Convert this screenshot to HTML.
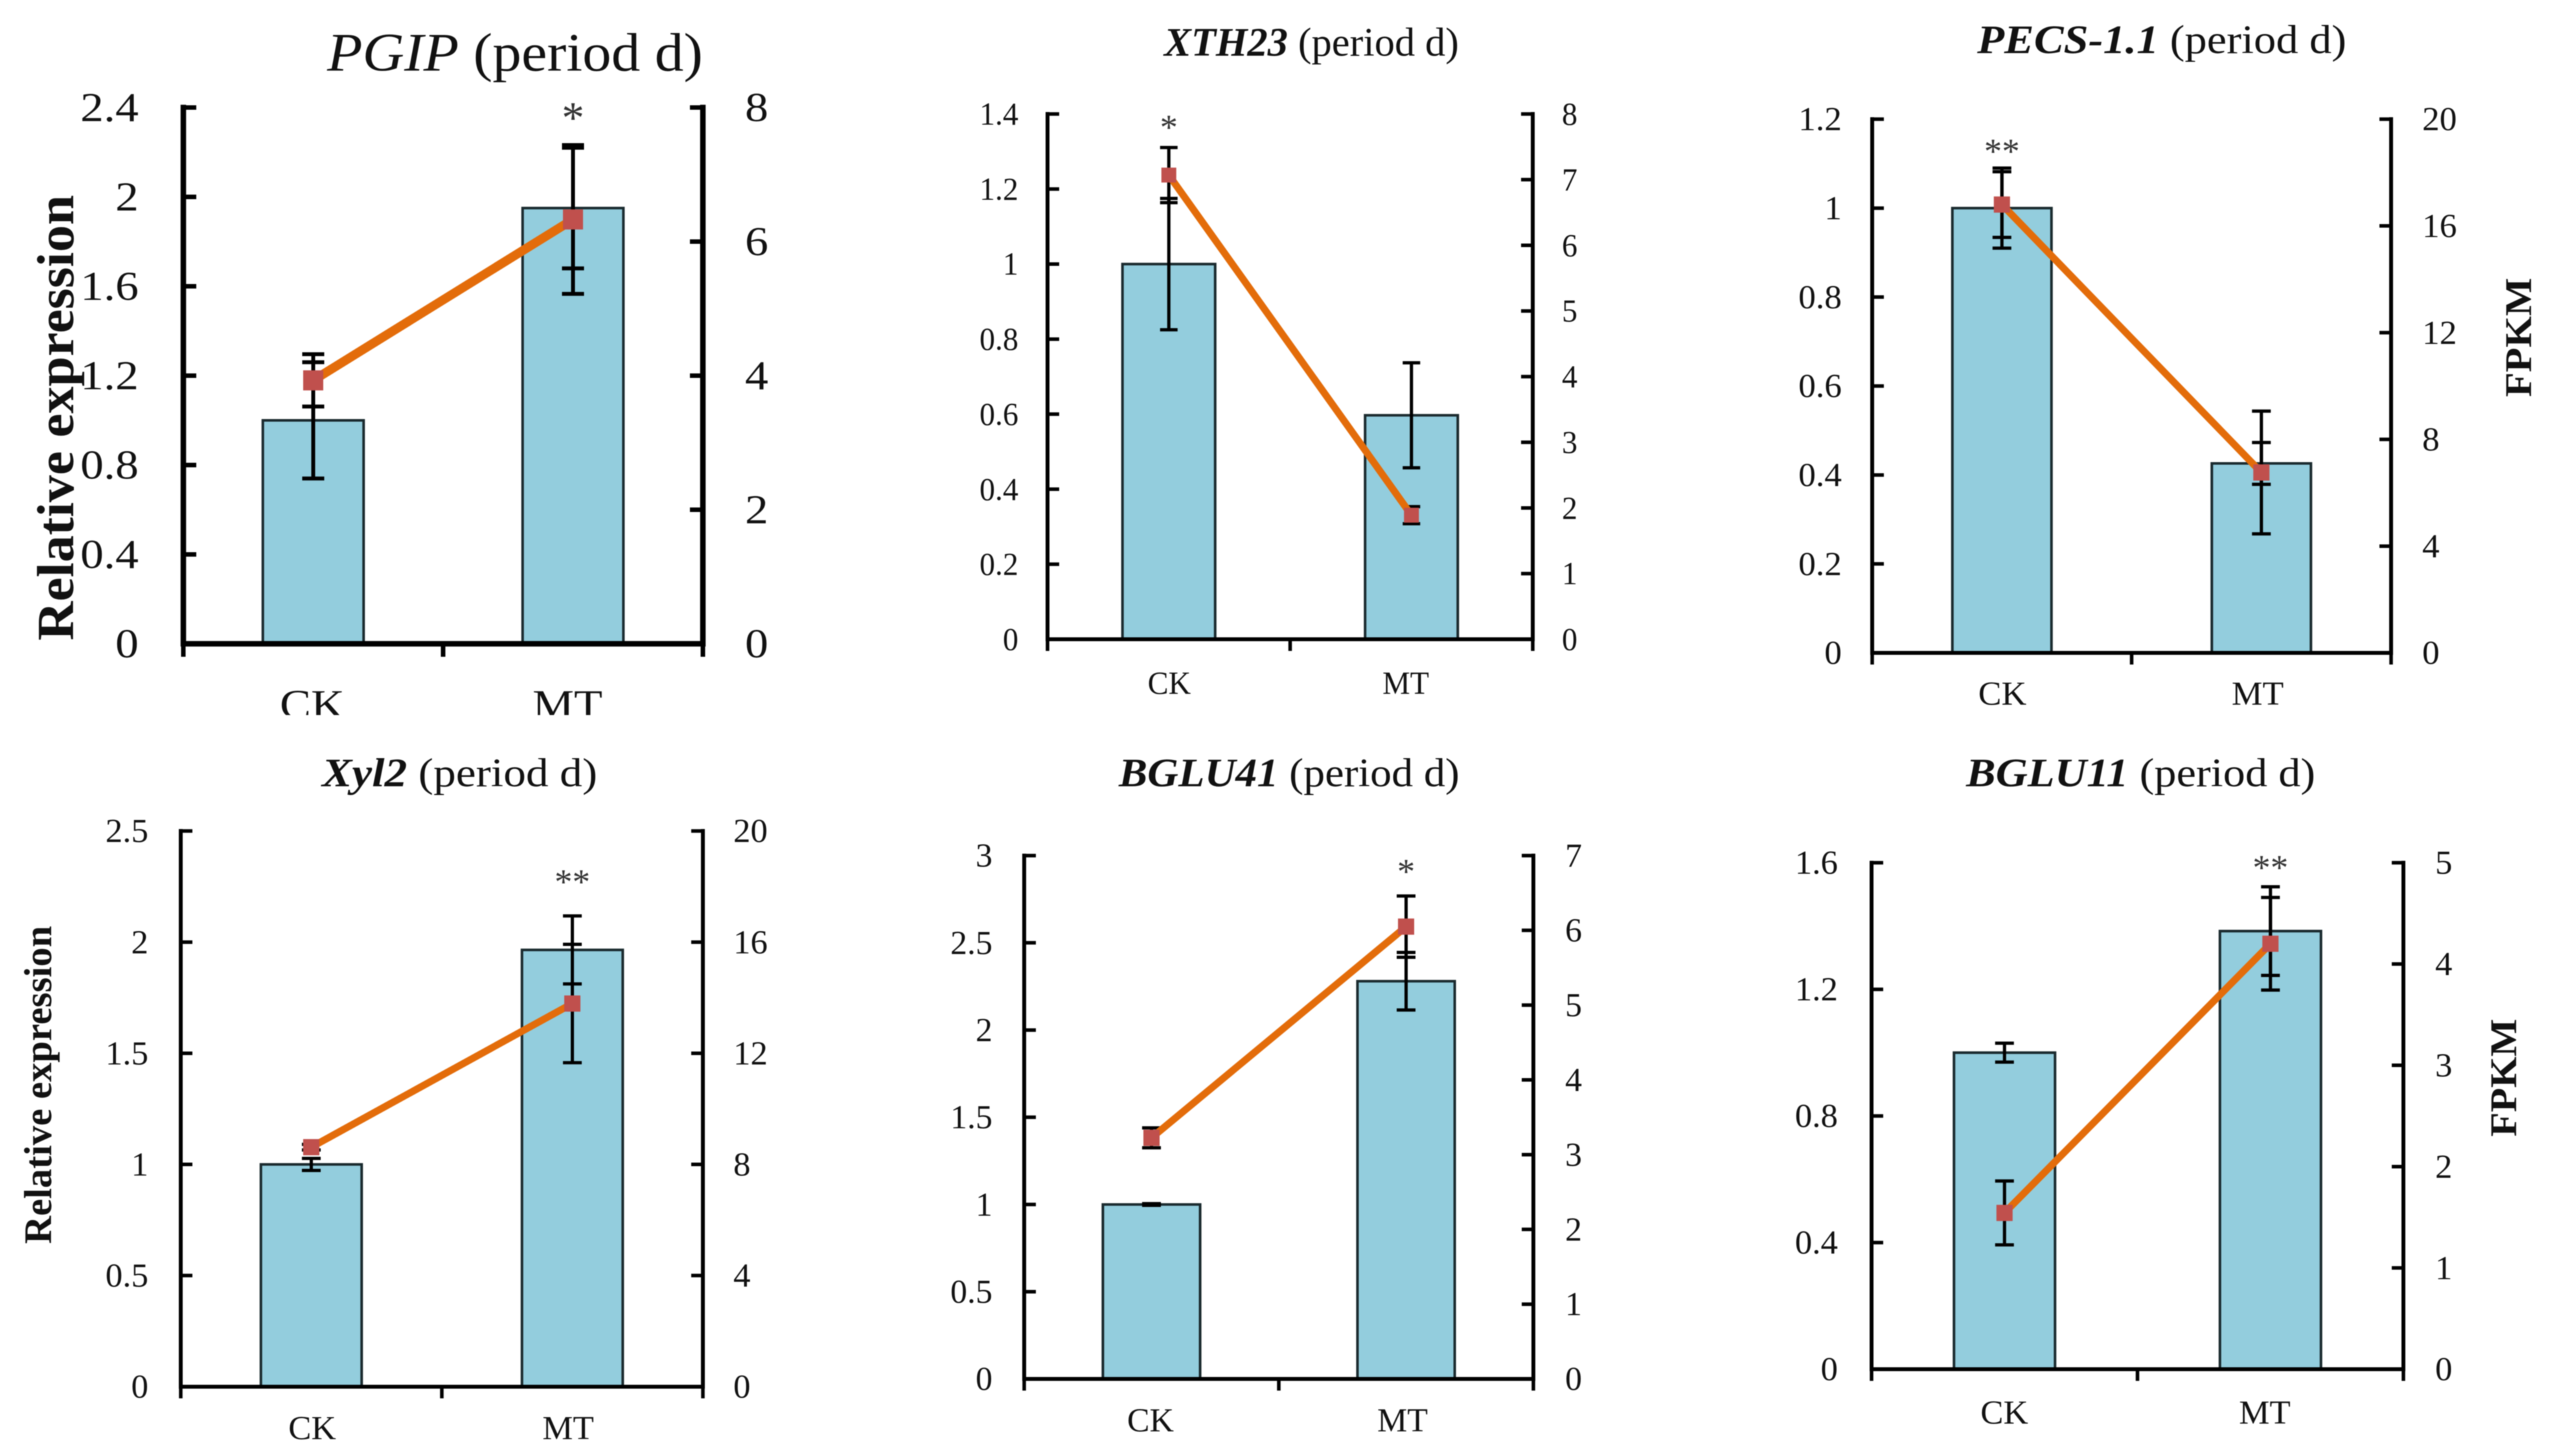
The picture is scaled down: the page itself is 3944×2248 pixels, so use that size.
<!DOCTYPE html>
<html lang="en">
<head>
<meta charset="utf-8">
<title>Relative expression and FPKM (period d)</title>
<style>
html,body{margin:0;padding:0;background:#fff;width:3944px;height:2248px;overflow:hidden}
svg{display:block;font-family:"Liberation Serif",serif;filter:blur(0.8px)}
</style>
</head>
<body>
<svg id="figure" xmlns="http://www.w3.org/2000/svg" width="3944" height="2248" viewBox="0 0 3944 2248">
<rect x="0" y="0" width="3944" height="2248" fill="#ffffff"/>
</svg>
<script>
const categories = ['CK', 'MT'];

const pgipBars = [1, 1.95];
const pgipBarErr = [0.26, 0.27];
const pgipLine = [3.93, 6.33];
const pgipLineErr = [0.39, 1.11];
const pgipLeftTicks = ['0', '0.4', '0.8', '1.2', '1.6', '2', '2.4'];
const pgipRightTicks = ['0', '2', '4', '6', '8'];
const pgipStars = ['', '*'];

const xth23Bars = [1, 0.597];
const xth23BarErr = [0.175, 0.14];
const xth23Line = [7.07, 1.89];
const xth23LineErr = [0.42, 0.13];
const xth23LeftTicks = ['0', '0.2', '0.4', '0.6', '0.8', '1', '1.2', '1.4'];
const xth23RightTicks = ['0', '1', '2', '3', '4', '5', '6', '7', '8'];
const xth23Stars = ['*', ''];

const pecsBars = [1, 0.426];
const pecsBarErr = [0.09, 0.047];
const pecsLine = [16.8, 6.76];
const pecsLineErr = [1.23, 2.3];
const pecsLeftTicks = ['0', '0.2', '0.4', '0.6', '0.8', '1', '1.2'];
const pecsRightTicks = ['0', '4', '8', '12', '16', '20'];
const pecsStars = ['**', ''];

const xyl2Bars = [1, 1.965];
const xyl2BarErr = [0.027, 0.153];
const xyl2Line = [8.62, 13.79];
const xyl2LineErr = [0.1, 2.13];
const xyl2LeftTicks = ['0', '0.5', '1', '1.5', '2', '2.5'];
const xyl2RightTicks = ['0', '4', '8', '12', '16', '20'];
const xyl2Stars = ['', '**'];

const bglu41Bars = [1, 2.28];
const bglu41BarErr = [0.005, 0.165];
const bglu41Line = [3.225, 6.05];
const bglu41LineErr = [0.133, 0.41];
const bglu41LeftTicks = ['0', '0.5', '1', '1.5', '2', '2.5', '3'];
const bglu41RightTicks = ['0', '1', '2', '3', '4', '5', '6', '7'];
const bglu41Stars = ['', '*'];

const bglu11Bars = [1, 1.384];
const bglu11BarErr = [0.03, 0.14];
const bglu11Line = [1.543, 4.2];
const bglu11LineErr = [0.315, 0.457];
const bglu11LeftTicks = ['0', '0.4', '0.8', '1.2', '1.6'];
const bglu11RightTicks = ['0', '1', '2', '3', '4', '5'];
const bglu11Stars = ['', '**'];

const panels = [
  {gene:'PGIP', bold:false, bars:pgipBars, barErr:pgipBarErr, line:pgipLine, lineErr:pgipLineErr, lt:pgipLeftTicks, rt:pgipRightTicks, stars:pgipStars,
   L:283,R:1085,T:166,B:994, fs:64,sx:1.125, gapL:69,gapR:65, barW:.194, ax:8.5, tickW:7, lw:14, mk:31, err:6, cap:34, catY:1109, catX:[482,876], clipY:1104,
   title:{x:505,w:580,y:109,fs:84}, starFs:70, starY:172, yTitle:{text:'Relative expression',x:113,y:645,len:688,fs:80}},
  {gene:'XTH23', bold:true, bars:xth23Bars, barErr:xth23BarErr, line:xth23Line, lineErr:xth23LineErr, lt:xth23LeftTicks, rt:xth23RightTicks, stars:xth23Stars,
   L:1617,R:2366,T:176,B:987, fs:50,sx:0.96, gapL:45,gapR:45, barW:.191, ax:6, tickW:5.5, lw:11, mk:23, err:5, cap:27, catY:1071, catX:[1805,2170],
   title:{x:1797,w:455,y:86,fs:62}, starFs:55, starY:189},
  {gene:'PECS-1.1', bold:true, bars:pecsBars, barErr:pecsBarErr, line:pecsLine, lineErr:pecsLineErr, lt:pecsLeftTicks, rt:pecsRightTicks, stars:pecsStars,
   L:2890,R:3691,T:184,B:1008, fs:52,sx:1.03, gapL:47,gapR:48, barW:.191, ax:6, tickW:5.5, lw:11, mk:25, err:5, cap:29, catY:1088, catX:[3091,3485],
   title:{x:3052,w:570,y:82,fs:62}, starFs:55, starY:226, yTitle:{text:'FPKM',x:3907,y:521,len:184,fs:58}},
  {gene:'Xyl2', bold:true, bars:xyl2Bars, barErr:xyl2BarErr, line:xyl2Line, lineErr:xyl2LineErr, lt:xyl2LeftTicks, rt:xyl2RightTicks, stars:xyl2Stars,
   L:279,R:1085,T:1283,B:2141, fs:52,sx:1.02, gapL:50,gapR:47, barW:.193, ax:6, tickW:5.5, lw:11, mk:25, err:5, cap:29, catY:2222, catX:[482,877],
   title:{x:497,w:425,y:1214,fs:62}, starFs:55, starY:1354, yTitle:{text:'Relative expression',x:79,y:1675,len:491,fs:60}},
  {gene:'BGLU41', bold:true, bars:bglu41Bars, barErr:bglu41BarErr, line:bglu41Line, lineErr:bglu41LineErr, lt:bglu41LeftTicks, rt:bglu41RightTicks, stars:bglu41Stars,
   L:1581,R:2367,T:1321,B:2129, fs:52,sx:1.0, gapL:49,gapR:49, barW:.191, ax:6, tickW:5.5, lw:11, mk:25, err:5, cap:29, catY:2210, catX:[1776,2165],
   title:{x:1727,w:526,y:1214,fs:62}, starFs:55, starY:1338},
  {gene:'BGLU11', bold:true, bars:bglu11Bars, barErr:bglu11BarErr, line:bglu11Line, lineErr:bglu11LineErr, lt:bglu11LeftTicks, rt:bglu11RightTicks, stars:bglu11Stars,
   L:2889,R:3710,T:1332,B:2114, fs:52,sx:1.02, gapL:52,gapR:49, barW:.19, ax:6, tickW:5.5, lw:11, mk:25, err:5, cap:29, catY:2198, catX:[3094,3496],
   title:{x:3035,w:539,y:1214,fs:62}, starFs:55, starY:1332, yTitle:{text:'FPKM',x:3884,y:1664,len:182,fs:58}}
];

const NS = 'http://www.w3.org/2000/svg';
const svg = document.getElementById('figure');

function mk(tag, attrs, parent) {
  const el = document.createElementNS(NS, tag);
  for (const k in attrs) el.setAttribute(k, attrs[k]);
  parent.appendChild(el);
  return el;
}
function textAt(parent, x, y, str, fs, anchor, sx, fill) {
  const t = mk('text', {transform:'translate(' + x + ',' + y + ') scale(' + sx + ',1)', 'font-size':fs, 'text-anchor':anchor, fill:fill || '#111111'}, parent);
  t.textContent = str;
  return t;
}

panels.forEach(function (p, idx) {
  const g = mk('g', {}, svg);
  
  

  const leftMax = parseFloat(p.lt[p.lt.length - 1]);
  const rightMax = parseFloat(p.rt[p.rt.length - 1]);
  const yLeft = function (v) { return p.B - (v / leftMax) * (p.B - p.T); };
  const yRight = function (v) { return p.B - (v / rightMax) * (p.B - p.T); };
  const xCat = function (i) { return p.L + (p.R - p.L) * (i + 0.5) / categories.length; };
  const barPx = p.barW * (p.R - p.L);
  const tickLen = p.ax >= 7 ? 20 : 18;
  const stroke = '#000000';

  // bars
  p.bars.forEach(function (v, i) {
    const bar = mk('rect', {x:xCat(i) - barPx / 2, y:yLeft(v), width:barPx, height:p.B - yLeft(v), fill:'#93CDDD', stroke:'#1a2a2e', 'stroke-width':4}, g);
    
    
  });

  // bar error bars
  p.barErr.forEach(function (e, i) {
    const x = xCat(i);
    const top = yLeft(p.bars[i] + e), bot = yLeft(p.bars[i] - e);
    const d = 'M' + x + ' ' + top + 'V' + bot + 'M' + (x - p.cap / 2) + ' ' + top + 'H' + (x + p.cap / 2) + 'M' + (x - p.cap / 2) + ' ' + bot + 'H' + (x + p.cap / 2);
    const eb = mk('path', {d:d, stroke:stroke, 'stroke-width':p.err, fill:'none'}, g);
    
    
  });

  // line error bars
  p.lineErr.forEach(function (e, i) {
    const x = xCat(i);
    const top = yRight(p.line[i] + e), bot = yRight(p.line[i] - e);
    const d = 'M' + x + ' ' + top + 'V' + bot + 'M' + (x - p.cap / 2) + ' ' + top + 'H' + (x + p.cap / 2) + 'M' + (x - p.cap / 2) + ' ' + bot + 'H' + (x + p.cap / 2);
    const eb = mk('path', {d:d, stroke:stroke, 'stroke-width':p.err, fill:'none'}, g);
    
    
  });

  // axes
  const axisD = 'M' + p.L + ' ' + p.T + 'V' + p.B + 'H' + p.R + 'V' + p.T;
  const axes = mk('path', {d:axisD, stroke:stroke, 'stroke-width':p.ax, fill:'none', 'stroke-linecap':'square'}, g);
  
  

  // left ticks + labels
  p.lt.forEach(function (lab) {
    const y = yLeft(parseFloat(lab));
    const tk = mk('line', {x1:p.L, x2:p.L + tickLen, y1:y, y2:y, stroke:stroke, 'stroke-width':p.tickW}, g);
    
    
    const t = textAt(g, p.L - p.gapL, y + p.fs * 0.33, lab, p.fs, 'end', p.sx);
    
    
  });

  // right ticks + labels
  p.rt.forEach(function (lab) {
    const y = yRight(parseFloat(lab));
    const tk = mk('line', {x1:p.R - tickLen, x2:p.R, y1:y, y2:y, stroke:stroke, 'stroke-width':p.tickW}, g);
    
    
    const t = textAt(g, p.R + p.gapR, y + p.fs * 0.33, lab, p.fs, 'start', p.sx);
    
    
  });

  // x ticks
  for (let i = 0; i <= categories.length; i++) {
    const x = p.L + (p.R - p.L) * i / categories.length;
    const tk = mk('line', {x1:x, x2:x, y1:p.B, y2:p.B + tickLen, stroke:stroke, 'stroke-width':p.tickW}, g);
    
    
  }

  // connecting line
  const pts = p.line.map(function (v, i) { return xCat(i) + ',' + yRight(v); }).join(' ');
  const ln = mk('polyline', {points:pts, fill:'none', stroke:'#E36C0A', 'stroke-width':p.lw}, g);
  
  

  // markers
  p.line.forEach(function (v, i) {
    const m = mk('rect', {x:xCat(i) - p.mk / 2, y:yRight(v) - p.mk / 2, width:p.mk, height:p.mk, fill:'#C0504D'}, g);
    
    
  });

  // significance stars
  p.stars.forEach(function (s, i) {
    if (!s) return;
    const t = textAt(g, xCat(i), p.starY + p.starFs * 0.47, s, p.starFs, 'middle', 1, '#333333');
    
    
  });

  // category labels
  let catParent = g;
  if (p.clipY) {
    const defs = mk('defs', {}, g);
    const cp = mk('clipPath', {id:'clip-cat-' + idx}, defs);
    mk('rect', {x:0, y:0, width:3944, height:p.clipY}, cp);
    catParent = mk('g', {'clip-path':'url(#clip-cat-' + idx + ')'}, g);
  }
  categories.forEach(function (c, i) {
    const t = textAt(catParent, p.catX[i], p.catY, c, p.fs, 'middle', p.sx);
    
    
  });

  // title
  const title = mk('text', {x:p.title.x, y:p.title.y, 'font-size':p.title.fs, textLength:p.title.w, lengthAdjust:'spacingAndGlyphs', fill:'#111111'}, g);
  
  
  const t1 = mk('tspan', {'font-style':'italic', 'font-weight':p.bold ? 'bold' : 'normal'}, title);
  t1.textContent = p.gene;
  const t2 = mk('tspan', {}, title);
  t2.textContent = ' (period d)';

  // y-axis title
  if (p.yTitle) {
    const yt = mk('text', {transform:'translate(' + p.yTitle.x + ',' + p.yTitle.y + ') rotate(-90)', 'font-size':p.yTitle.fs, 'font-weight':'bold', 'text-anchor':'middle', textLength:p.yTitle.len, lengthAdjust:'spacingAndGlyphs', fill:'#111111'}, g);
    yt.textContent = p.yTitle.text;
    
    
  }
});
</script>
</body>
</html>
